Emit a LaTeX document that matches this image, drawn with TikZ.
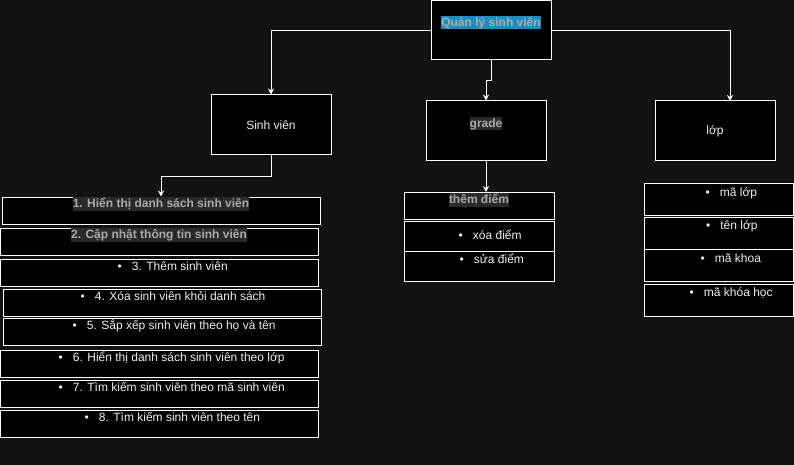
\documentclass[tikz,border=0pt]{standalone}
\usepackage{fontspec}
\setmainfont{Liberation Sans}
\usetikzlibrary{arrows.meta}
\definecolor{bg}{RGB}{18,18,18}
\definecolor{txt}{RGB}{240,240,240}
\definecolor{hltxt}{RGB}{170,170,170}
\definecolor{hlblue}{RGB}{27,141,193}
\definecolor{hlgray}{RGB}{42,42,42}
\tikzset{
  box/.style={draw=white, fill=black, line width=1pt, inner sep=0pt},
  conn/.style={draw=white, line width=1pt, -{Stealth[length=6pt,width=6pt]}},
  lbl/.style={text=txt, font=\fontsize{12}{14}\selectfont, inner sep=0pt},
  hl/.style={text=hltxt, font=\fontsize{12}{14}\selectfont\bfseries, inner xsep=0pt, inner ysep=0pt,
    text height=10.9pt, text depth=2.6pt, anchor=base},
}
\newcommand{\bul}{•\hspace{10pt}}
\begin{document}
\begin{tikzpicture}[x=1pt,y=-1pt]
\useasboundingbox (0,0) rectangle (794,465);
\fill[bg] (0,0) rectangle (794,465);

% main boxes
\node[box, minimum width=120, minimum height=59.5] (top) at (491,30.25) {};
\node[box, minimum width=120, minimum height=60] (sv) at (271,125) {};
\node[box, minimum width=120, minimum height=60] (grade) at (486,131) {};
\node[box, minimum width=120, minimum height=60] (lop) at (715,131) {};

% grade column
\node[box, minimum width=150, minimum height=27] (td) at (479,205.5) {};
\node[box, minimum width=150, minimum height=30] (xd) at (479,236) {};
\node[box, minimum width=150, minimum height=30] (sd) at (479,266) {};

% lop column
\node[box, minimum width=149, minimum height=32] (ml) at (718.5,199) {};
\node[box, minimum width=149, minimum height=32] (tl) at (718.5,233) {};
\node[box, minimum width=149, minimum height=32] (mk) at (718.5,265) {};
\node[box, minimum width=149, minimum height=32] (mkh) at (718.5,300) {};

% student items
\node[box, minimum width=318, minimum height=27] (i1) at (161,210.5) {};
\node[box, minimum width=318, minimum height=27] (i2) at (159.5,241.5) {};
\node[box, minimum width=318, minimum height=27] (i3) at (159.5,272.5) {};
\node[box, minimum width=318, minimum height=27] (i4) at (162,302.5) {};
\node[box, minimum width=318, minimum height=27] (i5) at (162,331.5) {};
\node[box, minimum width=318, minimum height=27] (i6) at (159.5,363.5) {};
\node[box, minimum width=318, minimum height=27] (i7) at (159.5,393.5) {};
\node[box, minimum width=318, minimum height=27] (i8) at (159.5,423.5) {};

% texts
\node[hl, fill=hlblue] (ttop) at (491,26.9) {Quản lý sinh viên};
\node[lbl, anchor=base] (tsv) at (271,129.5) {Sinh viên};
\node[hl, fill=hlgray] (tgrade) at (486,127.9) {grade};
\node[lbl, anchor=base] (tlop) at (715,135) {lớp};

\node[hl, fill=hlgray] (ttd) at (479,203.9) {thêm điểm};
\node[lbl, anchor=base west] (txd) at (458.5,239.5) {\bul xóa điểm};
\node[lbl, anchor=base west] (tsd) at (459.5,263) {\bul sửa điểm};

\node[lbl, anchor=base west] (tml) at (705.5,196) {\bul mã lớp};
\node[lbl, anchor=base west] (ttl) at (706,229.5) {\bul tên lớp};
\node[lbl, anchor=base west] (tmk) at (700.5,262) {\bul mã khoa};
\node[lbl, anchor=base west] (tmkh) at (689.5,296.5) {\bul mã khóa học};

\node[hl, fill=hlgray] (ti1) at (161,207.9) {1. Hiển thị danh sách sinh viên};
\node[hl, fill=hlgray] (ti2) at (159,238.9) {2. Cập nhật thông tin sinh viên};
\node[lbl, anchor=base west] (ti3) at (117.5,270) {\bul 3. Thêm sinh viên};
\node[lbl, anchor=base west] (ti4) at (80.5,300) {\bul 4. Xóa sinh viên khỏi danh sách};
\node[lbl, anchor=base west] (ti5) at (72.5,329) {\bul 5. Sắp xếp sinh viên theo họ và tên};
\node[lbl, anchor=base west] (ti6) at (58.5,361) {\bul 6. Hiển thị danh sách sinh viên theo lớp};
\node[lbl, anchor=base west] (ti7) at (58.5,391) {\bul 7. Tìm kiếm sinh viên theo mã sinh viên};
\node[lbl, anchor=base west] (ti8) at (84.5,421) {\bul 8. Tìm kiếm sinh viên theo tên};

% connectors
\coordinate (lopin) at (730,101);
\coordinate (tdin) at (486,192);
\draw[conn] (top.west) -| (sv.north);
\draw[conn] (top.east) -| (lopin);
\draw[conn] (top.south) -- ++(0,20) -| (grade.north);
\draw[conn] (sv.south) -- ++(0,21) -| (i1.north);
\draw[conn] (grade.south) -- (tdin);
\end{tikzpicture}
\end{document}
